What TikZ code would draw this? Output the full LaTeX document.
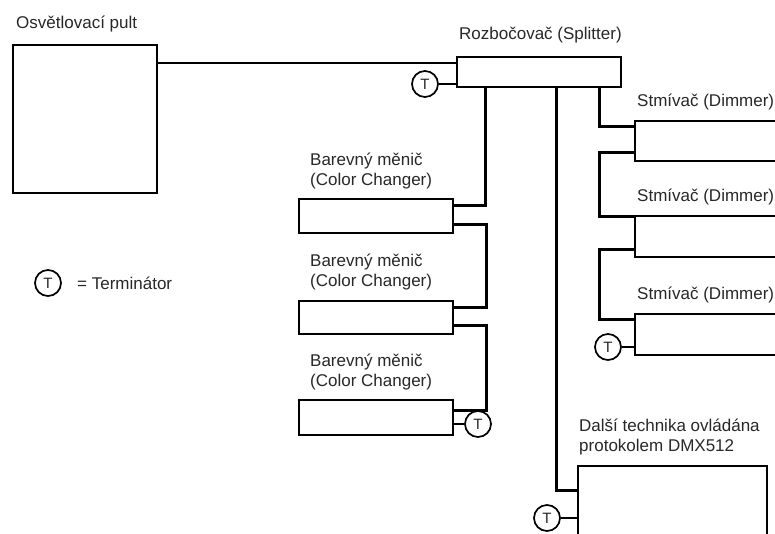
\documentclass[tikz,border=0pt]{standalone}
\usepackage{fontspec}
\setmainfont{Liberation Sans}
\usetikzlibrary{calc}
\definecolor{txt}{RGB}{40,40,40}
\tikzset{
  dev/.style={draw=black, line width=2.8pt, inner sep=0pt, fill=white},
  lbl/.style={text=txt, inner sep=0pt, font=\fontsize{17}{20}\selectfont, align=left},
  term/.style={draw=black, line width=1.7pt, circle, minimum size=26pt, inner sep=0pt, text=txt, font=\fontsize{15}{15}\selectfont, fill=white},
  wire/.style={draw=black, line width=2.7pt},
  twire/.style={draw=black, line width=1.9pt}
}
\begin{document}
\begin{tikzpicture}[x=1pt,y=-1pt]
\useasboundingbox (0,0) rectangle (775,533);
\clip (0,0) rectangle (775,533);
\fill[white] (0,0) rectangle (775,533);

% devices
\node[dev, minimum width=144pt, minimum height=148pt] (console) at (85,119) {};
\node[dev, minimum width=164pt, minimum height=30pt] (splitter) at (539,72) {};
\node[dev, minimum width=160pt, minimum height=40pt] (dim1) at (715,141) {};
\node[dev, minimum width=160pt, minimum height=41pt] (dim2) at (715,236.5) {};
\node[dev, minimum width=160pt, minimum height=41pt] (dim3) at (715,334.5) {};
\node[dev, minimum width=154pt, minimum height=34pt] (cc1) at (376,216) {};
\node[dev, minimum width=154pt, minimum height=33pt] (cc2) at (376,317.5) {};
\node[dev, minimum width=154pt, minimum height=35pt] (cc3) at (376,417.5) {};
\node[dev, minimum width=189pt, minimum height=80pt] (other) at (672.5,506) {};

% labels
\node[lbl, anchor=base west] (lconsole) at (16,28) {Osvětlovací pult};
\node[lbl, anchor=base west] (lsplit) at (459,39) {Rozbočovač (Splitter)};
\node[lbl, anchor=base west] (ldim1) at (637,106) {Stmívač (Dimmer)};
\node[lbl, anchor=base west] (ldim2) at (637,201) {Stmívač (Dimmer)};
\node[lbl, anchor=base west] (ldim3) at (637,299) {Stmívač (Dimmer)};
\node[lbl, anchor=west] (lcc1) at (310,171) {Barevný měnič\\(Color Changer)};
\node[lbl, anchor=west] (lcc2) at (310,272) {Barevný měnič\\(Color Changer)};
\node[lbl, anchor=west] (lcc3) at (310,372) {Barevný měnič\\(Color Changer)};
\node[lbl, anchor=west] (lother) at (579,437) {Další technika ovládána\\protokolem DMX512};

% console to splitter
\draw[wire] (console.east |- 0,63) coordinate (c1) -- (splitter.west |- c1);

% splitter branches
\draw[wire] ($(splitter.south west)+(30,0)$) |- ($(cc1.north east)+(0,8)$);
\draw[wire] ($(splitter.south west)+(101,0)$) |- ($(other.north west)+(0,26)$);
\draw[wire] ($(splitter.south west)+(144,0)$) |- ($(dim1.north west)+(0,7)$);

% dimmer chain
\draw[wire] ($(dim1.south west)+(0,-10)$) -- ++(-34,0) |- ($(dim2.north west)+(0,2)$);
\draw[wire] ($(dim2.south west)+(0,-9)$) -- ++(-34,0) |- ($(dim3.north west)+(0,7)$);

% colour changer chain
\draw[wire] ($(cc1.south east)+(0,-10)$) -- ++(32,0) |- ($(cc2.north east)+(0,8)$);
\draw[wire] ($(cc2.south east)+(0,-10)$) -- ++(32,0) |- ($(cc3.north east)+(0,12)$);

% terminators
\node[term] (tsplit) at (425,84) {T};
\draw[twire] (tsplit.east) -- (splitter.west |- tsplit.east);
\node[term] (tdim) at (608,347) {T};
\draw[twire] (tdim.east) -- (dim3.west |- tdim.east);
\node[term] (tcc) at (478,424) {T};
\draw[twire] (tcc.west) -- (cc3.east |- tcc.west);
\node[term] (tother) at (547,518) {T};
\draw[twire] (tother.east) -- (other.west |- tother.east);

% legend
\node[term] (tleg) at (48,283) {T};
\node[lbl, anchor=base west] (lleg) at (77,289) {= Terminátor};
\end{tikzpicture}
\end{document}
